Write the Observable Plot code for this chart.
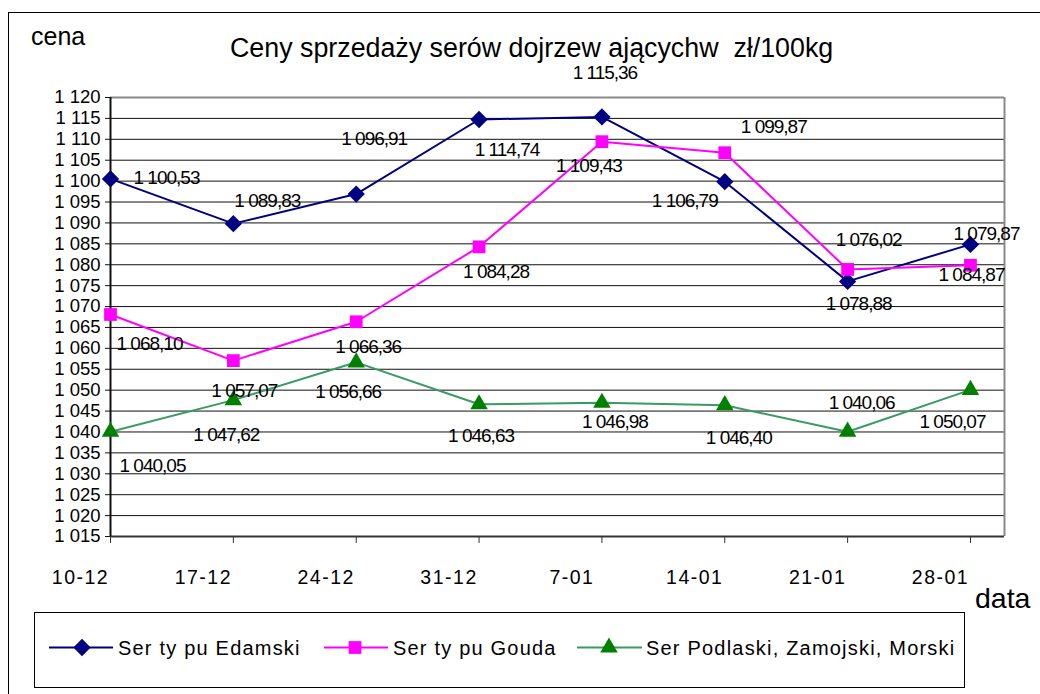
<!DOCTYPE html>
<html>
<head>
<meta charset="utf-8">
<script src="https://cdn.jsdelivr.net/npm/d3@7"></script>
<script src="https://cdn.jsdelivr.net/npm/@observablehq/plot@0.6"></script>
<style>
  html, body { margin: 0; padding: 0; background: #fff; overflow: hidden; }
  #wrap { position: relative; width: 1040px; height: 694px; overflow: hidden; font-family: "Liberation Sans", Arial, sans-serif; color: #000; }
  #outer { position: absolute; left: 8px; top: 12px; width: 1100px; height: 760px; border: 1px solid #000; box-sizing: border-box; }
  #chart { position: absolute; left: 0; top: 0; }
  .abs { position: absolute; white-space: pre; line-height: 30px; }
  #legend { position: absolute; left: 34px; top: 612px; width: 931px; height: 76px; border: 1px solid #000; box-sizing: border-box; background: #fff; }
  .leg { position: absolute; top: 0; height: 74px; }
  .legtxt { position: absolute; font-size: 20px; letter-spacing: 1.2px; line-height: 24px; top: 23px; white-space: pre; }
  g[aria-label="text"] text { letter-spacing: -1px; }
  g[aria-label="x-axis tick label"] text { letter-spacing: 1.5px; }
</style>
</head>
<body>
<div id="wrap">
  <div id="outer"></div>
  <div id="chart"></div>
  <div class="abs" id="title" style="left:230px; top:33px; font-size:26.8px;"></div>
  <div class="abs" id="ylab" style="left:31px; top:21px; font-size:25px;"></div>
  <div class="abs" id="xlab" style="left:975px; top:583px; font-size:28.5px;"></div>
  <div id="legend"></div>
</div>
<script>
// ---- data ----
const titleText = "Ceny sprzedaży serów dojrzew ającychw  zł/100kg";
const yAxisTitle = "cena";
const xAxisTitle = "data";
const dates = ["10-12", "17-12", "24-12", "31-12", "7-01", "14-01", "21-01", "28-01"];
const seriesNames = ["Ser ty pu Edamski", "Ser ty pu Gouda", "Ser Podlaski, Zamojski, Morski"];
const edamski = [1100.53, 1089.83, 1096.91, 1114.74, 1115.36, 1099.87, 1076.02, 1084.87];
const gouda = [1068.10, 1057.07, 1066.36, 1084.28, 1109.43, 1106.79, 1078.88, 1079.87];
const podlaski = [1040.05, 1047.62, 1056.66, 1046.63, 1046.98, 1046.40, 1040.06, 1050.07];
const yTicks = d3.range(1015, 1121, 5);

// ---- layout / style (not data) ----
const lineColors = ["#000080", "#FF00FF", "#3A9A64"];
const markerColors = ["#000080", "#FF00FF", "#008000"];
const symbols = ["diamond2", "square", "triangle"];
const radii = [7.8, 7.2, 6.5];
// label offsets in pixels from each point [dx, dy]
const labelShift = [
  [[56, -1], [34, -23], [18, -55], [28, 30], [3, -44], [49, -55], [21, -41], [1, 31]],
  [[39, 29], [11, 30], [12, 25], [17, 25], [-13, 24], [-40, 48], [11, 34], [16, -31]],
  [[42, 34], [-7, 35], [-8, 30], [2, 32], [13, 19], [14, 33], [14, -29], [-18, 32]]
];

const pl = d3.formatLocale({decimal: ",", thousands: " ", grouping: [3], currency: ["", ""]});
const fmtLabel = pl.format(",.2f");
const fmtTick = pl.format(",d");

const allSeries = [edamski, gouda, podlaski];
const tables = allSeries.map((vals, s) => vals.map((v, i) => ({i, v, s: seriesNames[s]})));

const xMax = 7.277;
const fontFamily = '"Liberation Sans", Arial, sans-serif';

const marks = [
  Plot.ruleY(yTicks, {stroke: "#111", strokeWidth: 1}),
  Plot.ruleY([1120], {stroke: "#8a8a8a", strokeWidth: 2}),
  Plot.ruleX([xMax], {stroke: "#8a8a8a", strokeWidth: 2}),
  Plot.ruleY([1015], {stroke: "#333", strokeWidth: 2}),
  Plot.ruleX([0], {stroke: "#111", strokeWidth: 2}),
  Plot.axisY({ticks: yTicks, tickSize: 5, tickPadding: 5, tickFormat: fmtTick, fontSize: 18.5, label: null, stroke: "#111"}),
  Plot.axisX({ticks: d3.range(8), tickSize: 7, fill: "none", label: null, stroke: "#333"}),
  Plot.axisX({ticks: d3.range(8), tickSize: 0, tickPadding: 34, dx: -30, tickFormat: i => dates[i], fontSize: 19.5, label: null})
];

tables.forEach((t, s) => {
  marks.push(Plot.line(t, {x: "i", y: "v", stroke: lineColors[s], strokeWidth: 2}));
});
tables.forEach((t, s) => {
  marks.push(Plot.dot(t, {x: "i", y: "v", symbol: symbols[s], r: radii[s], fill: markerColors[s], stroke: "none"}));
});
tables.forEach((t, s) => {
  t.forEach((d, i) => {
    marks.push(Plot.text([d], {
      x: "i", y: "v", text: dd => fmtLabel(dd.v),
      dx: labelShift[s][i][0], dy: labelShift[s][i][1],
      fontSize: 19, fill: "#000", textAnchor: "middle", lineAnchor: "middle"
    }));
  });
});

const chart = Plot.plot({
  width: 1040, height: 694,
  marginLeft: 110, marginRight: 36, marginTop: 97, marginBottom: 158,
  x: {type: "linear", domain: [0, xMax]},
  y: {domain: [1015, 1120]},
  style: {fontFamily, background: "transparent", color: "#000"},
  marks
});
document.getElementById("chart").appendChild(chart);

document.getElementById("title").textContent = titleText;
document.getElementById("ylab").textContent = yAxisTitle;
document.getElementById("xlab").textContent = xAxisTitle;

// ---- legend ----
const legend = document.getElementById("legend");
const legPos = [
  {x1: 49, x2: 113, m: 82, t: 118},
  {x1: 324, x2: 388, m: 355, t: 393},
  {x1: 577, x2: 642, m: 609, t: 646}
];
const symbolPaths = {
  diamond2: d3.symbol(d3.symbolDiamond2 || d3.symbolSquare, Math.PI * radii[0] * radii[0])(),
  square: d3.symbol(d3.symbolSquare, Math.PI * radii[1] * radii[1])(),
  triangle: d3.symbol(d3.symbolTriangle, Math.PI * radii[2] * radii[2])()
};
seriesNames.forEach((name, s) => {
  const p = legPos[s];
  const ox = 34 + 1; // legend left + border
  const svg = d3.create("svg").attr("class", "leg")
    .attr("width", p.x2 - p.x1 + 20).attr("height", 74)
    .style("left", (p.x1 - ox - 10) + "px");
  svg.append("line").attr("x1", 10).attr("x2", p.x2 - p.x1 + 10).attr("y1", 34.5).attr("y2", 34.5)
    .attr("stroke", lineColors[s]).attr("stroke-width", 2);
  svg.append("path").attr("d", symbolPaths[symbols[s]])
    .attr("transform", `translate(${p.m - p.x1 + 10},34.5)`).attr("fill", markerColors[s]);
  legend.appendChild(svg.node());
  const tx = document.createElement("div");
  tx.className = "legtxt";
  tx.style.left = (p.t - ox) + "px";
  tx.textContent = name;
  legend.appendChild(tx);
});
</script>
</body>
</html>
